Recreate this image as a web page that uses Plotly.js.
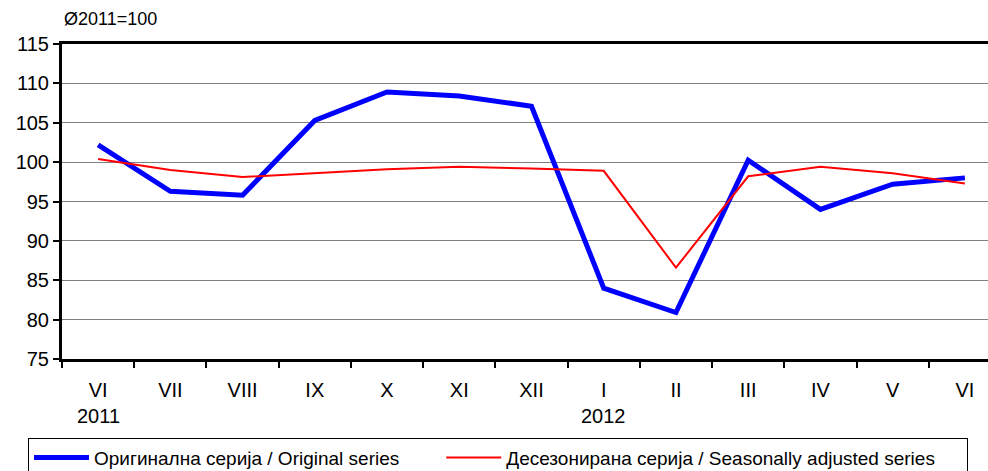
<!DOCTYPE html>
<html><head><meta charset="utf-8">
<script src="https://cdn.plot.ly/plotly-3.0.1.min.js"></script>
<style>html,body{margin:0;padding:0;overflow:hidden;background:#fff;width:988px;height:471px}</style>
</head><body><div id="chart"></div>
<script>
const months = ["VI","VII","VIII","IX","X","XI","XII","I","II","III","IV","V","VI "];
const monthLabels = ["VI","VII","VIII","IX","X","XI","XII","I","II","III","IV","V","VI"];
const yearLabels = ["2011","2012"];
const yearAt = ["VI","I"];
const original = [102.2, 96.3, 95.8, 105.3, 108.9, 108.4, 107.1, 84.0, 80.9, 100.25, 94.0, 97.2, 98.0];
const adjusted = [100.4, 99.0, 98.1, 98.6, 99.1, 99.4, 99.2, 98.9, 86.6, 98.2, 99.4, 98.6, 97.3];
const seriesNames = ["Оригинална серија / Original series", "Десезонирана серија / Seasonally adjusted series"];
const unitNote = "Ø2011=100";

const fam = '"Liberation Sans", Arial, sans-serif';
const pad = n => '\u00a0'.repeat(n);
const traces = [
  {x: months, y: original, type: 'scatter', mode: 'lines', name: seriesNames[0] + pad(7),
   line: {color: '#0000ff', width: 5}},
  {x: months, y: adjusted, type: 'scatter', mode: 'lines', name: seriesNames[1] + pad(5),
   line: {color: '#ff0000', width: 2}}
];
const annotations = [{text: unitNote, xref: 'paper', yref: 'paper', x: 0, y: 1.0, yshift: 25,
  xanchor: 'left', yanchor: 'middle', showarrow: false,
  font: {family: fam, size: 18, color: '#000'}}];
yearLabels.forEach((t, i) => annotations.push({text: t, xref: 'x', yref: 'paper', x: yearAt[i], y: 0,
  yshift: -57, xanchor: 'center', yanchor: 'middle', showarrow: false,
  font: {family: fam, size: 20, color: '#000'}}));

const layout = {
  width: 1100, height: 471,
  margin: {l: 62, r: 99, t: 44, b: 112, autoexpand: false},
  paper_bgcolor: '#fff', plot_bgcolor: '#fff',
  showlegend: true,
  font: {family: fam, color: '#000'},
  xaxis: {type: 'category', tickvals: months, ticktext: monthLabels,
    ticks: 'outside', tickson: 'boundaries', ticklen: 6, tickwidth: 2, tickcolor: '#000',
    showline: true, linecolor: '#000', linewidth: 3, mirror: true, showgrid: false,
    tickfont: {family: fam, size: 20, color: '#000'}, ticklabelstandoff: 11,
    range: [-0.5, 12.5], automargin: false},
  yaxis: {range: [75, 115], dtick: 5, tick0: 75, ticks: 'outside', ticklen: 6, tickwidth: 2,
    tickcolor: '#000', showline: true, linecolor: '#000', linewidth: 3, mirror: true,
    showgrid: true, gridcolor: '#808080', gridwidth: 1, zeroline: false, automargin: false,
    tickfont: {family: fam, size: 20, color: '#000'}},
  legend: {orientation: 'h', x: -0.0362, y: -0.250, xanchor: 'left', yanchor: 'top',
    bordercolor: '#000', borderwidth: 1, itemwidth: 55,
    font: {family: fam, size: 19, color: '#000'}},
  annotations: annotations
};
Plotly.newPlot('chart', traces, layout, {displayModeBar: false, staticPlot: true});
</script></body></html>
